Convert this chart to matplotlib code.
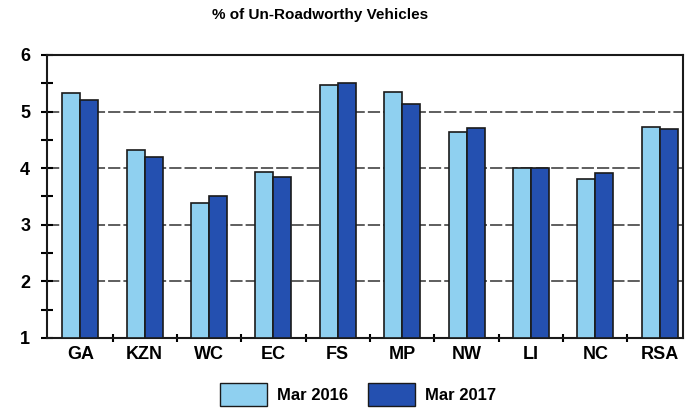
import matplotlib.pyplot as plt
import numpy as np
from matplotlib.patches import Patch

plt.rcParams['font.family'] = ['Liberation Sans', 'DejaVu Sans']

regions = ['GA', 'KZN', 'WC', 'EC', 'FS', 'MP', 'NW', 'LI', 'NC', 'RSA']
mar_2016 = [5.33, 4.32, 3.39, 3.93, 5.47, 5.34, 4.63, 4.01, 3.80, 4.73]
mar_2017 = [5.21, 4.20, 3.50, 3.84, 5.51, 5.13, 4.71, 4.01, 3.91, 4.69]

light = '#8fd0f0'
dark = '#2450b0'

fig = plt.figure(figsize=(6.89, 4.13), dpi=100)
ax = fig.add_axes([0.068, 0.182, 0.923, 0.685])

x = np.arange(len(regions))
w = 0.28
ax.bar(x - w / 2, [v - 1 for v in mar_2016], w, bottom=1, color=light,
       edgecolor='#1a1a1a', linewidth=1.2, zorder=3)
ax.bar(x + w / 2, [v - 1 for v in mar_2017], w, bottom=1, color=dark,
       edgecolor='#1a1a1a', linewidth=1.2, zorder=3)

ax.set_ylim(1, 6)
ax.set_xlim(-0.52, 9.36)
ax.set_yticks([1, 2, 3, 4, 5, 6])
ax.set_yticks(np.arange(1.5, 6, 1), minor=True)
ax.set_xticks(x)
ax.set_xticklabels(regions, fontsize=13, fontweight='bold')
ax.set_xticks(x[:-1] + 0.5, minor=True)
ax.tick_params(axis='x', which='major', length=0, pad=6)
ax.tick_params(axis='x', which='minor', length=6, width=1.5, direction='inout')
ax.tick_params(axis='y', which='both', length=8, width=1.5, direction='inout', pad=8)
for lab in ax.get_yticklabels():
    lab.set_fontsize(13)
    lab.set_fontweight('bold')

ax.yaxis.grid(True, color='#333333', linestyle=(0, (8, 2)), linewidth=1.1, zorder=0)
for s in ax.spines.values():
    s.set_linewidth(1.5)
    s.set_color('#1a1a1a')

ax.set_title('% of Un-Roadworthy Vehicles', fontsize=11, fontweight='bold', pad=26, x=0.43)

handles = [Patch(facecolor=light, edgecolor='#1a1a1a', label='Mar 2016'),
           Patch(facecolor=dark, edgecolor='#1a1a1a', label='Mar 2017')]
leg = fig.legend(handles=handles, loc='lower center', bbox_to_anchor=(0.52, -0.02), ncol=2,
                 frameon=False, handlelength=2.8, handleheight=1.8, columnspacing=1.2,
                 handletextpad=0.6, prop={'weight': 'bold', 'size': 12})

fig.savefig('out.png', dpi=100)
